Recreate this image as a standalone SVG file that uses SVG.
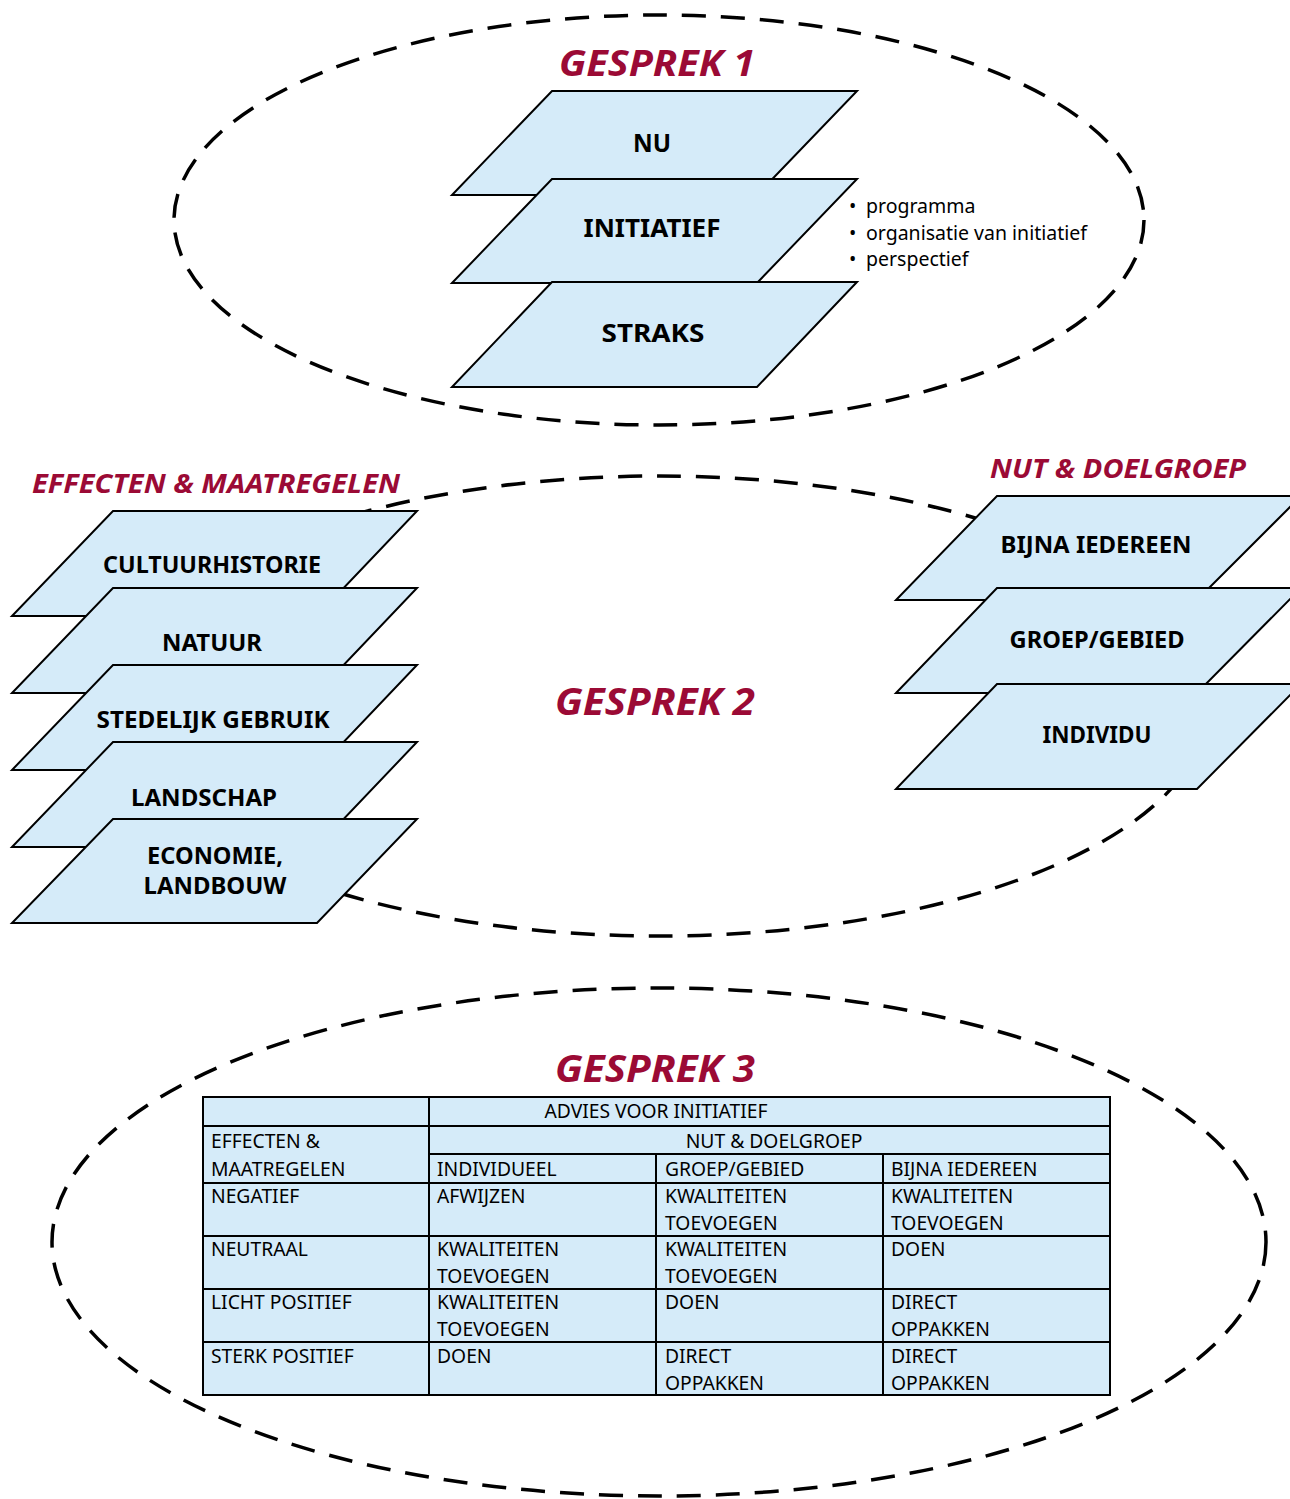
<svg xmlns="http://www.w3.org/2000/svg" width="1290" height="1499" viewBox="0 0 1290 1499">
<style>
.ell{fill:none;stroke:#000;stroke-width:3.5;stroke-dasharray:24 15}
.pl{fill:#d5ebf9;stroke:#000;stroke-width:2;stroke-linejoin:miter}
.lb{font-family:"Noto Sans","Open Sans",sans-serif;font-weight:bold;font-size:25px;fill:#000;text-anchor:middle}
.lb2{font-family:"Noto Sans","Open Sans",sans-serif;font-weight:bold;font-size:23px;fill:#000;text-anchor:middle}
.ttl{font-family:"Noto Sans","Open Sans",sans-serif;font-weight:bold;font-style:italic;fill:#9b0a35}
.bul{font-family:"Noto Sans","Open Sans",sans-serif;font-size:19.5px;fill:#000}
.cell{fill:#d5ebf9;stroke:#000;stroke-width:2}
.tx{font-family:"Noto Sans","Open Sans",sans-serif;font-size:19.3px;fill:#000}
.grid{stroke:#000;stroke-width:2;fill:none}
</style>
<rect width="1290" height="1499" fill="#fff"/>
<g id="frames">
<ellipse class="ell" cx="659" cy="220" rx="485" ry="205"/>
<ellipse class="ell" cx="659" cy="706" rx="549" ry="230"/>
<ellipse class="ell" cx="659" cy="1242" rx="607" ry="254"/>
</g>
<g id="connectors"/>
<g id="gesprek1">
<text class="ttl" x="559" y="76" font-size="36" textLength="196" lengthAdjust="spacingAndGlyphs">GESPREK 1</text>
<g id="nu"><polygon class="pl" points="552,91 857,91 757,195 452,195"/><text class="lb" x="652" y="152" textLength="38" lengthAdjust="spacingAndGlyphs">NU</text></g>
<g id="initiatief"><polygon class="pl" points="552,179 857,179 757,283 452,283"/><text class="lb" x="652" y="237" textLength="137" lengthAdjust="spacingAndGlyphs">INITIATIEF</text></g>
<g id="straks"><polygon class="pl" points="552,282 857,282 757,387 452,387"/><text class="lb" x="653" y="342" textLength="103" lengthAdjust="spacingAndGlyphs">STRAKS</text></g>
<g id="bullets" class="bul">
<text x="849" y="213">•</text><text x="866" y="213">programma</text>
<text x="849" y="240">•</text><text x="866" y="240">organisatie van initiatief</text>
<text x="849" y="266">•</text><text x="866" y="266">perspectief</text>
</g>
</g>
<g id="gesprek2">
<text class="ttl" x="555" y="715" font-size="37" textLength="200" lengthAdjust="spacingAndGlyphs">GESPREK 2</text>
<text class="ttl" x="32" y="493" font-size="26" textLength="368" lengthAdjust="spacingAndGlyphs">EFFECTEN &amp; MAATREGELEN</text>
<g id="cultuurhistorie"><polygon class="pl" points="113,511 417,511 317,616 12,616"/><text class="lb2" x="212" y="573" textLength="218" lengthAdjust="spacingAndGlyphs">CULTUURHISTORIE</text></g>
<g id="natuur"><polygon class="pl" points="113,588 417,588 317,693 12,693"/><text class="lb2" x="212" y="651" textLength="100" lengthAdjust="spacingAndGlyphs">NATUUR</text></g>
<g id="stedelijk"><polygon class="pl" points="113,665 417,665 317,770 12,770"/><text class="lb2" x="213" y="728" textLength="233" lengthAdjust="spacingAndGlyphs">STEDELIJK GEBRUIK</text></g>
<g id="landschap"><polygon class="pl" points="113,742 417,742 317,847 12,847"/><text class="lb2" x="204" y="806" textLength="146" lengthAdjust="spacingAndGlyphs">LANDSCHAP</text></g>
<g id="economie"><polygon class="pl" points="113,819 417,819 317,923 12,923"/><text class="lb2" x="215" y="864" textLength="136" lengthAdjust="spacingAndGlyphs">ECONOMIE,</text><text class="lb2" x="215" y="894" textLength="143" lengthAdjust="spacingAndGlyphs">LANDBOUW</text></g>
<text class="ttl" x="990" y="478" font-size="26" textLength="256" lengthAdjust="spacingAndGlyphs">NUT &amp; DOELGROEP</text>
<g id="bijna"><polygon class="pl" points="997,496 1301,496 1197,600 896,600"/><text class="lb2" x="1096" y="553" textLength="191" lengthAdjust="spacingAndGlyphs">BIJNA IEDEREEN</text></g>
<g id="groep"><polygon class="pl" points="997,588 1301,588 1197,693 896,693"/><text class="lb2" x="1097" y="648" textLength="175" lengthAdjust="spacingAndGlyphs">GROEP/GEBIED</text></g>
<g id="individu"><polygon class="pl" points="997,684 1301,684 1197,789 896,789"/><text class="lb2" x="1097" y="743" textLength="109" lengthAdjust="spacingAndGlyphs">INDIVIDU</text></g>
</g>
<g id="gesprek3">
<text class="ttl" x="555" y="1082" font-size="37" textLength="200" lengthAdjust="spacingAndGlyphs">GESPREK 3</text>
<g id="table">
<rect class="cell" x="203" y="1097" width="907" height="298"/>
<g class="grid">
<line x1="429" y1="1097" x2="429" y2="1395"/>
<line x1="203" y1="1126" x2="1110" y2="1126"/>
<line x1="429" y1="1154" x2="1110" y2="1154"/>
<line x1="203" y1="1183" x2="1110" y2="1183"/>
<line x1="203" y1="1236" x2="1110" y2="1236"/>
<line x1="203" y1="1289" x2="1110" y2="1289"/>
<line x1="203" y1="1342" x2="1110" y2="1342"/>
<line x1="656" y1="1154" x2="656" y2="1395"/>
<line x1="883" y1="1154" x2="883" y2="1395"/>
</g>
<g class="tx">
<text x="656" y="1118" text-anchor="middle">ADVIES VOOR INITIATIEF</text>
<text x="774" y="1148" text-anchor="middle">NUT &amp; DOELGROEP</text>
<text x="211" y="1148">EFFECTEN &amp;</text>
<text x="211" y="1176">MAATREGELEN</text>
<text x="437" y="1176">INDIVIDUEEL</text>
<text x="665" y="1176">GROEP/GEBIED</text>
<text x="891" y="1176">BIJNA IEDEREEN</text>
<text x="211" y="1203">NEGATIEF</text>
<text x="437" y="1203">AFWIJZEN</text>
<text x="665" y="1203">KWALITEITEN</text>
<text x="665" y="1230">TOEVOEGEN</text>
<text x="891" y="1203">KWALITEITEN</text>
<text x="891" y="1230">TOEVOEGEN</text>
<text x="211" y="1256">NEUTRAAL</text>
<text x="437" y="1256">KWALITEITEN</text>
<text x="437" y="1283">TOEVOEGEN</text>
<text x="665" y="1256">KWALITEITEN</text>
<text x="665" y="1283">TOEVOEGEN</text>
<text x="891" y="1256">DOEN</text>
<text x="211" y="1309">LICHT POSITIEF</text>
<text x="437" y="1309">KWALITEITEN</text>
<text x="437" y="1336">TOEVOEGEN</text>
<text x="665" y="1309">DOEN</text>
<text x="891" y="1309">DIRECT</text>
<text x="891" y="1336">OPPAKKEN</text>
<text x="211" y="1363">STERK POSITIEF</text>
<text x="437" y="1363">DOEN</text>
<text x="665" y="1363">DIRECT</text>
<text x="665" y="1390">OPPAKKEN</text>
<text x="891" y="1363">DIRECT</text>
<text x="891" y="1390">OPPAKKEN</text>
</g>
</g>
</g>
</svg>
